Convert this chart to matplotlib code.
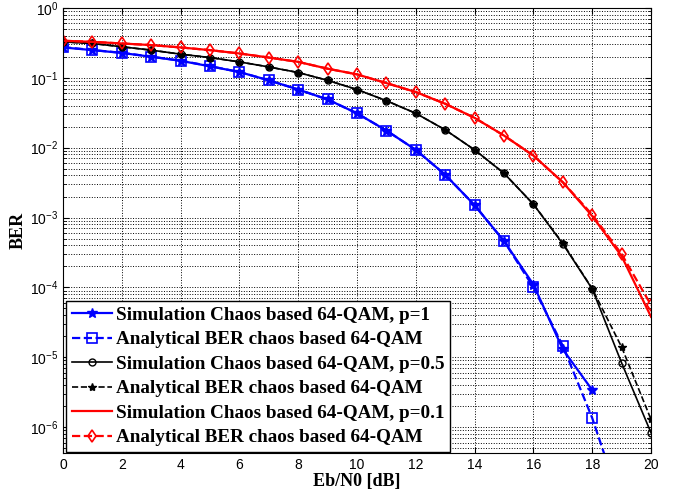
import numpy as np
import matplotlib
matplotlib.use('Agg')
import matplotlib.pyplot as plt

plt.rcParams['font.family'] = ['Liberation Sans', 'DejaVu Sans']
plt.rcParams['mathtext.default'] = 'regular'

# Eb/N0 axis
snr_db = np.arange(0, 21)

# p = 1
sim_p1 = [0.272, 0.249, 0.227, 0.2, 0.175, 0.146, 0.121, 0.092, 0.068, 0.049,
          0.031, 0.0176, 0.0093, 0.0041, 1.5e-3, 4.6e-4, 1.1e-4, 1.3e-5, 3.4e-6]
ana_p1 = [0.275, 0.25, 0.228, 0.201, 0.176, 0.147, 0.121, 0.092, 0.068, 0.049,
          0.031, 0.0176, 0.0093, 0.0041, 1.5e-3, 4.6e-4, 1.0e-4, 1.46e-5, 1.35e-6,
          7.5e-8, 2.5e-9]

# p = 0.5
sim_p05 = [0.327, 0.31, 0.278, 0.249, 0.218, 0.195, 0.169, 0.143, 0.119, 0.092,
           0.068, 0.047, 0.031, 0.018, 0.0093, 0.0043, 1.55e-3, 4.2e-4, 9.5e-5,
           8.3e-6, 8.3e-7]
ana_p05 = [0.327, 0.31, 0.278, 0.249, 0.218, 0.195, 0.169, 0.143, 0.119, 0.092,
           0.068, 0.047, 0.031, 0.018, 0.0093, 0.0043, 1.55e-3, 4.3e-4, 9.6e-5,
           1.4e-5, 1.29e-6]

# p = 0.1
sim_p01 = [0.339, 0.327, 0.31, 0.294, 0.272, 0.249, 0.223, 0.195, 0.169, 0.135,
           0.112, 0.084, 0.0625, 0.0425, 0.0267, 0.0149, 0.0077, 0.0032, 1.05e-3,
           2.8e-4, 3.8e-5]
ana_p01 = [0.339, 0.327, 0.31, 0.294, 0.272, 0.249, 0.223, 0.195, 0.169, 0.135,
           0.112, 0.084, 0.0625, 0.0425, 0.0267, 0.0149, 0.0077, 0.0032, 1.1e-3,
           3.0e-4, 5.6e-5]

labels = ['Simulation Chaos based 64-QAM, p=1',
          'Analytical BER chaos based 64-QAM',
          'Simulation Chaos based 64-QAM, p=0.5',
          'Analytical BER chaos based 64-QAM',
          'Simulation Chaos based 64-QAM, p=0.1',
          'Analytical BER chaos based 64-QAM']

fig = plt.figure(figsize=(6.78, 4.96), dpi=100)
ax = fig.add_axes([0.0929, 0.0867, 0.8673, 0.8973])

ax.semilogy(snr_db[:len(sim_p1)], sim_p1, '-*', color='b', lw=1.6, ms=7, label=labels[0])
ax.semilogy(snr_db, ana_p1, '--s', color='b', lw=1.6, ms=7, mfc='none', mew=1.2, label=labels[1])
ax.semilogy(snr_db, sim_p05, '-o', color='k', lw=1.2, ms=5, mfc='none', mew=1.0, label=labels[2])
ax.semilogy(snr_db, ana_p05, '--*', color='k', lw=1.2, ms=6, label=labels[3])
ax.semilogy(snr_db, sim_p01, '-.', color='r', lw=1.6, ms=3, linestyle='-', label=labels[4])
ax.semilogy(snr_db, ana_p01, '--d', color='r', lw=1.6, ms=6, mfc='none', mew=1.2, label=labels[5])

ax.set_xlim(0, 20)
ax.set_ylim(10 ** -6.37, 1)
ax.set_xticks(np.arange(0, 21, 2))
ax.grid(True, which='major', ls=':', color='k', lw=0.7)
ax.grid(True, which='minor', axis='y', ls=':', color='k', lw=0.7)
ax.tick_params(direction='in', which='both', top=True, right=True, labelsize=10)
ax.tick_params(which='major', length=4)
ax.tick_params(which='minor', length=2)

ax.set_xlabel('Eb/N0 [dB]', family='Liberation Serif', fontweight='bold', fontsize=13, labelpad=1)
ax.set_ylabel('BER', family='Liberation Serif', fontweight='bold', fontsize=13, labelpad=2)

leg = ax.legend(loc='lower left', bbox_to_anchor=(0.005, 0.002), borderaxespad=0,
                prop={'family': 'Liberation Serif', 'weight': 'bold', 'size': 13.8},
                fancybox=False, framealpha=1, edgecolor='k', handlelength=2.1,
                labelspacing=0.37, borderpad=0.3, handletextpad=0.2)
leg.get_frame().set_linewidth(1.0)

fig.savefig('out.png', dpi=100)
